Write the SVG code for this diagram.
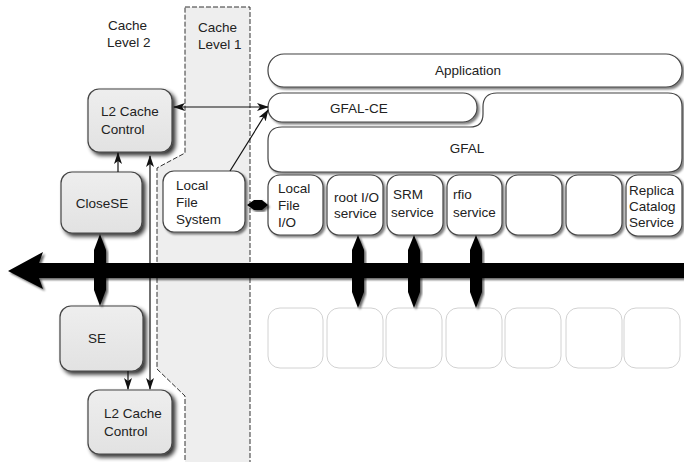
<svg xmlns="http://www.w3.org/2000/svg" width="684" height="462" viewBox="0 0 684 462">
  <defs>
    <filter id="shadowDark" x="-20%" y="-20%" width="150%" height="150%">
      <feGaussianBlur in="SourceAlpha" stdDeviation="2"/>
      <feOffset dx="3" dy="3" result="b"/>
      <feComponentTransfer><feFuncA type="linear" slope="0.8"/></feComponentTransfer>
      <feMerge><feMergeNode/><feMergeNode in="SourceGraphic"/></feMerge>
    </filter>
    <filter id="shadowLight" x="-20%" y="-20%" width="150%" height="150%">
      <feGaussianBlur in="SourceAlpha" stdDeviation="1.2"/>
      <feOffset dx="1.5" dy="1.5" result="b"/>
      <feComponentTransfer><feFuncA type="linear" slope="0.5"/></feComponentTransfer>
      <feMerge><feMergeNode/><feMergeNode in="SourceGraphic"/></feMerge>
    </filter>
    <filter id="soft" x="-20%" y="-20%" width="140%" height="140%">
      <feGaussianBlur in="SourceAlpha" stdDeviation="1.2"/>
      <feOffset dx="2" dy="1.5" result="b"/>
      <feComponentTransfer><feFuncA type="linear" slope="0.6"/></feComponentTransfer>
      <feMerge><feMergeNode/><feMergeNode in="SourceGraphic"/></feMerge>
    </filter>
    <linearGradient id="grayFill" x1="0" y1="0" x2="0" y2="1">
      <stop offset="0" stop-color="#eeeeee"/>
      <stop offset="1" stop-color="#e2e2e2"/>
    </linearGradient>
    <marker id="arr" viewBox="0 0 12 8" refX="11" refY="4" markerWidth="12" markerHeight="8" markerUnits="userSpaceOnUse" orient="auto-start-reverse">
      <path d="M0,0 L12,4 L0,8 L3,4 z" fill="#111"/>
    </marker>
    <style>
      text { font-family: "Liberation Sans", Arial, sans-serif; font-size: 13.5px; fill: #222; }
      .mid { text-anchor: middle; }
      .gray { fill: url(#grayFill); stroke: #444; stroke-width: 1.2; filter: url(#shadowDark); }
      .white { fill: #ffffff; stroke: #444; stroke-width: 1.2; filter: url(#shadowLight); }
      .ghost { fill: #ffffff; stroke: #d2d2d2; stroke-width: 1; }
      .zone { fill: #eeeeee; stroke: #333; stroke-width: 1; stroke-dasharray: 5 2; }
      .line { fill: none; stroke: #111; stroke-width: 1.2; }
      .solid { fill: #050505; filter: url(#soft); }
    </style>
  </defs>

  <!-- cache level 1 zone -->
  <g id="cache-level-1">
    <polygon class="zone" points="185,7 250,7 250,466 185,466 185,396 157,369 157,168 185,153"/>
    <text x="198" y="32">Cache</text>
    <text x="198" y="49">Level 1</text>
  </g>

  <g id="cache-level-2-label">
    <text x="108" y="30">Cache</text>
    <text x="107" y="47">Level 2</text>
  </g>

  <!-- storage side -->
  <g id="l2-cache-top">
    <rect class="gray" x="88" y="89" width="84" height="63" rx="11"/>
    <text x="101" y="116">L2 Cache</text>
    <text x="101" y="134">Control</text>
  </g>
  <g id="closese">
    <rect class="gray" x="61" y="172" width="81" height="61" rx="11"/>
    <text class="mid" x="102" y="208">CloseSE</text>
  </g>
  <g id="se">
    <rect class="gray" x="60" y="306" width="83" height="65" rx="11"/>
    <text x="88" y="343">SE</text>
  </g>
  <g id="l2-cache-bottom">
    <rect class="gray" x="88" y="390" width="84" height="64" rx="11"/>
    <text x="104" y="418">L2 Cache</text>
    <text x="104" y="436">Control</text>
  </g>
  <g id="local-file-system">
    <rect class="white" x="163" y="171" width="82" height="61" rx="11"/>
    <text x="176" y="190">Local</text>
    <text x="176" y="207">File</text>
    <text x="176" y="224">System</text>
  </g>

  <!-- client stack -->
  <g id="application">
    <rect class="white" x="268" y="54" width="414" height="33" rx="16"/>
    <text class="mid" x="468" y="75">Application</text>
  </g>
  <g id="gfal-ce">
    <rect class="white" x="268" y="93" width="209" height="29" rx="14"/>
    <text class="mid" x="359" y="113">GFAL-CE</text>
  </g>
  <g id="gfal">
    <path class="white" d="M497,93 H668 Q682,93 682,107 V158 Q682,172 668,172 H282 Q268,172 268,158 V141 Q268,127 282,127 H470 Q483,127 483,114 V107 Q483,93 497,93 Z"/>
    <text class="mid" x="467" y="153">GFAL</text>
  </g>

  <g id="local-file-io">
    <rect class="white" x="268" y="175" width="55" height="60" rx="12"/>
    <text x="278" y="193">Local</text>
    <text x="278" y="210">File</text>
    <text x="278" y="227">I/O</text>
  </g>
  <g id="root-io-service">
    <rect class="white" x="327" y="175" width="56" height="60" rx="12"/>
    <text x="334" y="202">root I/O</text>
    <text x="334" y="218">service</text>
  </g>
  <g id="srm-service">
    <rect class="white" x="387" y="175" width="56" height="60" rx="12"/>
    <text x="393" y="199">SRM</text>
    <text x="391" y="217">service</text>
  </g>
  <g id="rfio-service">
    <rect class="white" x="447" y="175" width="55" height="60" rx="12"/>
    <text x="453" y="199">rfio</text>
    <text x="453" y="217">service</text>
  </g>
  <g id="service-5">
    <rect class="white" x="506" y="175" width="56" height="60" rx="12"/>
  </g>
  <g id="service-6">
    <rect class="white" x="566" y="175" width="56" height="60" rx="12"/>
  </g>
  <g id="replica-catalog-service">
    <rect class="white" x="626" y="175" width="56" height="61" rx="12"/>
    <text x="629" y="195">Replica</text>
    <text x="629" y="211">Catalog</text>
    <text x="629" y="227">Service</text>
  </g>

  <!-- remote endpoints below the network -->
  <g id="remote-1"><rect class="ghost" x="268" y="308" width="55" height="60" rx="12"/></g>
  <g id="remote-2"><rect class="ghost" x="327" y="308" width="56" height="60" rx="12"/></g>
  <g id="remote-3"><rect class="ghost" x="386" y="308" width="56" height="60" rx="12"/></g>
  <g id="remote-4"><rect class="ghost" x="446" y="308" width="56" height="60" rx="12"/></g>
  <g id="remote-5"><rect class="ghost" x="505" y="308" width="56" height="60" rx="12"/></g>
  <g id="remote-6"><rect class="ghost" x="566" y="308" width="56" height="60" rx="12"/></g>
  <g id="remote-7"><rect class="ghost" x="624" y="308" width="56" height="60" rx="12"/></g>

  <!-- connectors -->
  <g id="connectors">
    <line class="line" x1="174" y1="107" x2="268" y2="107" marker-start="url(#arr)" marker-end="url(#arr)"/>
    <line class="line" x1="230" y1="171" x2="268" y2="110" marker-end="url(#arr)"/>
    <line class="line" x1="118" y1="172" x2="118" y2="153" marker-end="url(#arr)"/>
    <line class="line" x1="150" y1="389" x2="150" y2="156" marker-start="url(#arr)" marker-end="url(#arr)"/>
    <line class="line" x1="128" y1="371" x2="128" y2="389" marker-end="url(#arr)"/>
    <polygon class="solid" points="247,205 254,200 262,200 268,205 262,210 254,210"/>
    <!-- network bus -->
    <polygon class="solid" points="8,271 43,252 39,263 684,263 684,278 39,278 43,289"/>
    <polygon class="solid" points="100,234 106,250 106,290 100,306 94,290 94,250"/>
    <polygon class="solid" points="358,235 364,250 364,292 358,308 352,292 352,250"/>
    <polygon class="solid" points="414,235 420,250 420,292 414,308 408,292 408,250"/>
    <polygon class="solid" points="476,235 482,250 482,292 476,308 470,292 470,250"/>
  </g>
</svg>
